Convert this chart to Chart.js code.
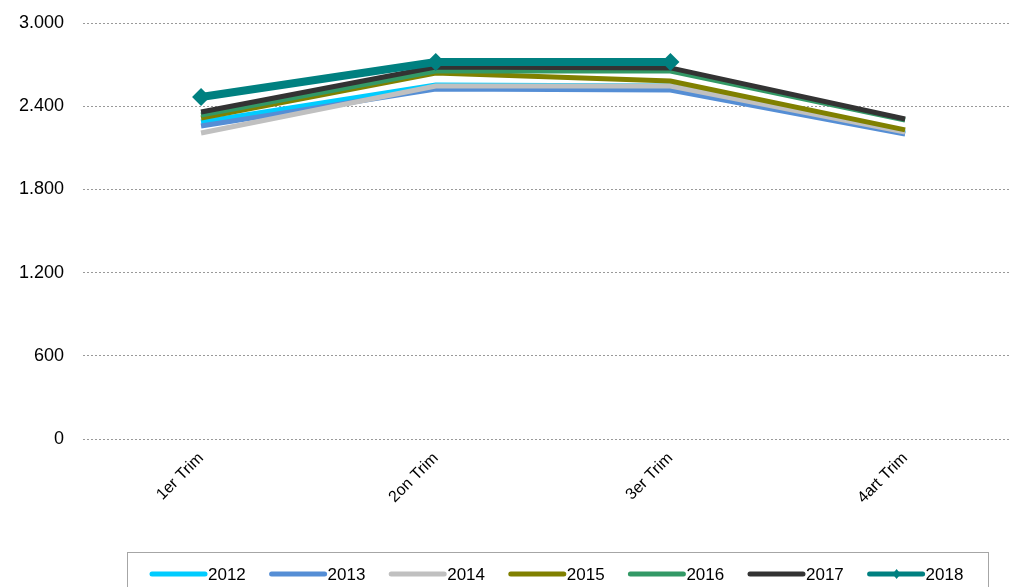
<!DOCTYPE html>
<html>
<head>
  <meta charset="UTF-8">
  <title>Trimestres 2012-2018</title>
  <script src="https://cdn.jsdelivr.net/npm/chart.js"></script>
  <style>
    body { margin: 0; background: #fff; overflow: hidden; }
    #wrap { width: 1010px; height: 587px; }
  </style>
</head>
<body>
  <div id="wrap"><canvas id="chart"></canvas></div>
  <script>
    // Data
    const quarters = ['1er Trim', '2on Trim', '3er Trim', '4art Trim'];
    const years = ['2012', '2013', '2014', '2015', '2016', '2017', '2018'];
    const v2012 = [2286, 2553, 2546, 2207];
    const v2013 = [2257, 2524, 2517, 2200];
    const v2014 = [2207, 2546, 2546, 2214];
    const v2015 = [2315, 2640, 2582, 2229];
    const v2016 = [2337, 2654, 2654, 2301];
    const v2017 = [2358, 2683, 2676, 2308];
    const v2018 = [2466, 2719, 2719, null];
    const yTicks = [0, 600, 1200, 1800, 2400, 3000];

    const seriesValues = [v2012, v2013, v2014, v2015, v2016, v2017, v2018];
    const colors = ['#00ccff', '#558ed5', '#c0c0c0', '#808000', '#339966', '#333333', '#008080'];
    const FONT = '"Liberation Sans", Arial, sans-serif';

    const datasets = years.map((y, i) => ({
      label: y,
      data: seriesValues[i].map((v, j) => ({ x: j, y: v })),
      borderColor: colors[i],
      backgroundColor: colors[i],
      borderWidth: i === 6 ? 8 : 5,
      pointRadius: i === 6 ? 9 : 0,
      pointHoverRadius: i === 6 ? 9 : 0,
      pointStyle: 'rectRot',
      pointBorderWidth: 0,
      tension: 0,
      spanGaps: false,
      order: 6 - i
    }));

    const fmt = v => v.toLocaleString('de-DE');

    // Legend drawn by hand, inside a thin box at the bottom
    const boxLegend = {
      id: 'boxLegend',
      afterDraw(chart) {
        const ctx = chart.ctx;
        ctx.save();
        ctx.strokeStyle = '#a6a6a6';
        ctx.lineWidth = 1;
        ctx.strokeRect(127.5, 552.5, 861, 60);
        ctx.font = '17px ' + FONT;
        ctx.textBaseline = 'middle';
        let x = 152;
        const y = 574;
        years.forEach((yr, i) => {
          ctx.strokeStyle = colors[i];
          ctx.lineWidth = 5;
          ctx.lineCap = 'round';
          ctx.beginPath();
          ctx.moveTo(x, y);
          ctx.lineTo(x + 53, y);
          ctx.stroke();
          if (i === 6) {
            ctx.fillStyle = colors[i];
            ctx.beginPath();
            ctx.moveTo(x + 27, y - 5);
            ctx.lineTo(x + 31, y);
            ctx.lineTo(x + 27, y + 5);
            ctx.lineTo(x + 23, y);
            ctx.closePath();
            ctx.fill();
          }
          ctx.fillStyle = '#000';
          ctx.fillText(yr, x + 56, y + 1);
          x += 119.6;
        });
        ctx.restore();
      }
    };

    new Chart(document.getElementById('chart'), {
      type: 'line',
      data: { datasets },
      plugins: [boxLegend],
      options: {
        responsive: true,
        maintainAspectRatio: false,
        animation: false,
        layout: { autoPadding: false, padding: { top: 23, bottom: 48, left: 0, right: 0 } },
        plugins: { legend: { display: false }, tooltip: { enabled: false } },
        scales: {
          x: {
            type: 'linear',
            min: -0.503,
            max: 3.447,
            afterBuildTicks: s => { s.ticks = quarters.map((q, i) => ({ value: i })); },
            afterFit: s => { s.height = 100; s.paddingLeft = 0; s.paddingRight = 0; },
            grid: { display: false },
            border: { display: false },
            ticks: {
              callback: v => quarters[v],
              maxRotation: 45,
              minRotation: 45,
              color: '#000',
              padding: 2,
              font: { family: FONT, size: 16 }
            }
          },
          y: {
            min: 0,
            max: 3000,
            afterBuildTicks: s => { s.ticks = yTicks.map(v => ({ value: v })); },
            afterFit: s => { s.width = 83; s.paddingTop = 0; s.paddingBottom = 0; },
            border: { display: false, dash: [2, 2] },
            grid: {
              color: '#999999',
              lineWidth: 1,
              drawTicks: false
            },
            ticks: {
              callback: v => fmt(v),
              color: '#000',
              padding: 19,
              font: { family: FONT, size: 18 }
            }
          }
        }
      }
    });
  </script>
</body>
</html>
